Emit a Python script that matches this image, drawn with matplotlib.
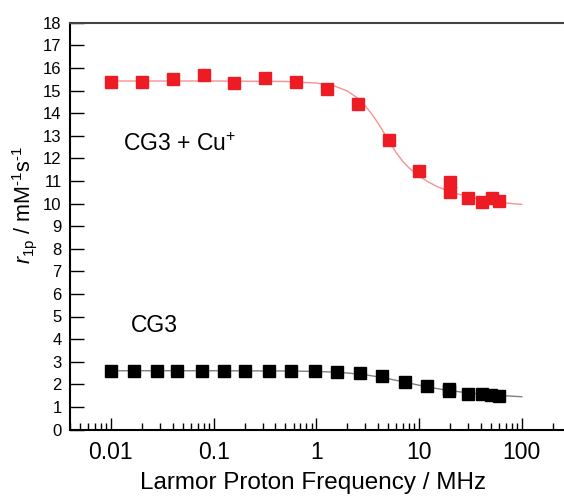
import numpy as np
import matplotlib.pyplot as plt

plt.rcParams['font.family'] = ['Liberation Sans', 'DejaVu Sans']
plt.rcParams['mathtext.fontset'] = 'custom'
plt.rcParams['mathtext.rm'] = 'Liberation Sans'
plt.rcParams['mathtext.it'] = 'Liberation Sans:italic'

# CG3 + Cu+ (red)
cu_freq = [0.01, 0.0203, 0.0404, 0.081, 0.159, 0.319, 0.635, 1.26, 2.55, 5.06, 10.0,
           20.0, 20.0, 30.2, 40.6, 51.0, 60.0]
cu_r1 = [15.36, 15.39, 15.52, 15.67, 15.35, 15.57, 15.39, 15.05, 14.42, 12.80, 11.45,
         10.96, 10.52, 10.23, 10.08, 10.23, 10.11]
cu_fit_freq = [0.01, 0.1, 0.5, 1.0, 1.5, 2.0, 2.5, 3.0, 3.5, 4.0, 4.5, 5.0, 6.0, 7.0,
               8.0, 10.0, 12.0, 15.0, 20.0, 30.0, 40.0, 50.0, 70.0, 100.0]
cu_fit_r1 = [15.42, 15.42, 15.40, 15.33, 15.20, 14.98, 14.68, 14.32, 13.93, 13.55,
             13.17, 12.82, 12.25, 11.85, 11.57, 11.22, 10.98, 10.75, 10.52, 10.30,
             10.18, 10.10, 10.02, 9.96]

# CG3 (black)
cg3_freq = [0.01, 0.0169, 0.0282, 0.0445, 0.0778, 0.126, 0.201, 0.349, 0.564, 0.977,
            1.58, 2.66, 4.39, 7.3, 12.0, 19.8, 19.8, 30.0, 40.6, 49.7, 60.5]
cg3_r1 = [2.57, 2.57, 2.57, 2.57, 2.59, 2.58, 2.57, 2.59, 2.57, 2.60,
          2.56, 2.50, 2.37, 2.12, 1.92, 1.79, 1.70, 1.58, 1.58, 1.54, 1.50]
cg3_fit_freq = [0.01, 0.1, 0.5, 1.0, 1.5, 2.0, 3.0, 4.0, 5.0, 7.0, 10.0, 15.0, 20.0,
                30.0, 50.0, 100.0]
cg3_fit_r1 = [2.60, 2.60, 2.59, 2.57, 2.54, 2.50, 2.42, 2.33, 2.25, 2.11, 1.96, 1.81,
              1.72, 1.62, 1.53, 1.45]

fig = plt.figure(figsize=(5.64, 4.96), dpi=100)
ax = fig.add_axes([70 / 564, 66.5 / 496, 505 / 564, 406.8 / 496])

ax.plot(cu_fit_freq, cu_fit_r1, color='#f39393', lw=1.0, zorder=2)
ax.plot(cg3_fit_freq, cg3_fit_r1, color='#808080', lw=1.0, zorder=2)
ax.plot(cu_freq, cu_r1, 's', color='#ed1c24', ms=8.5, mec='#ed1c24', zorder=3)
ax.plot(cg3_freq, cg3_r1, 's', color='black', ms=8.5, zorder=3)

ax.set_xscale('log')
ax.set_xlim(0.004, 330)
ax.set_ylim(0, 18)
ax.set_yticks(np.arange(0, 19, 1))
ax.set_xticks([0.01, 0.1, 1, 10, 100])
ax.set_xticklabels(['0.01', '0.1', '1', '10', '100'])

ax.tick_params(axis='y', direction='in', length=10, width=1, labelsize=12, pad=6)
ax.tick_params(axis='x', which='major', direction='in', length=9, width=1,
               labelsize=16.5, pad=8)
ax.tick_params(axis='x', which='minor', direction='in', length=5, width=1)
for s in ax.spines.values():
    s.set_linewidth(1.5)
ax.spines['top'].set_color('#444444')

ax.set_xlabel('Larmor Proton Frequency / MHz', fontsize=17.5)
ax.xaxis.set_label_coords(0.481, -0.104)
ax.set_ylabel(r'$r_{\rm 1p}$ / mM$^{\text{-}1}$s$^{\text{-}1}$', fontsize=15.5)
ax.yaxis.set_label_coords(-0.062, 0.552)

ax.text(0.0132, 12.6, r'CG3 + Cu$^{+}$', fontsize=16.5, va='center', ha='left')
ax.text(0.0155, 4.6, 'CG3', fontsize=16.5, va='center', ha='left')

fig.savefig('out.png', dpi=100)
